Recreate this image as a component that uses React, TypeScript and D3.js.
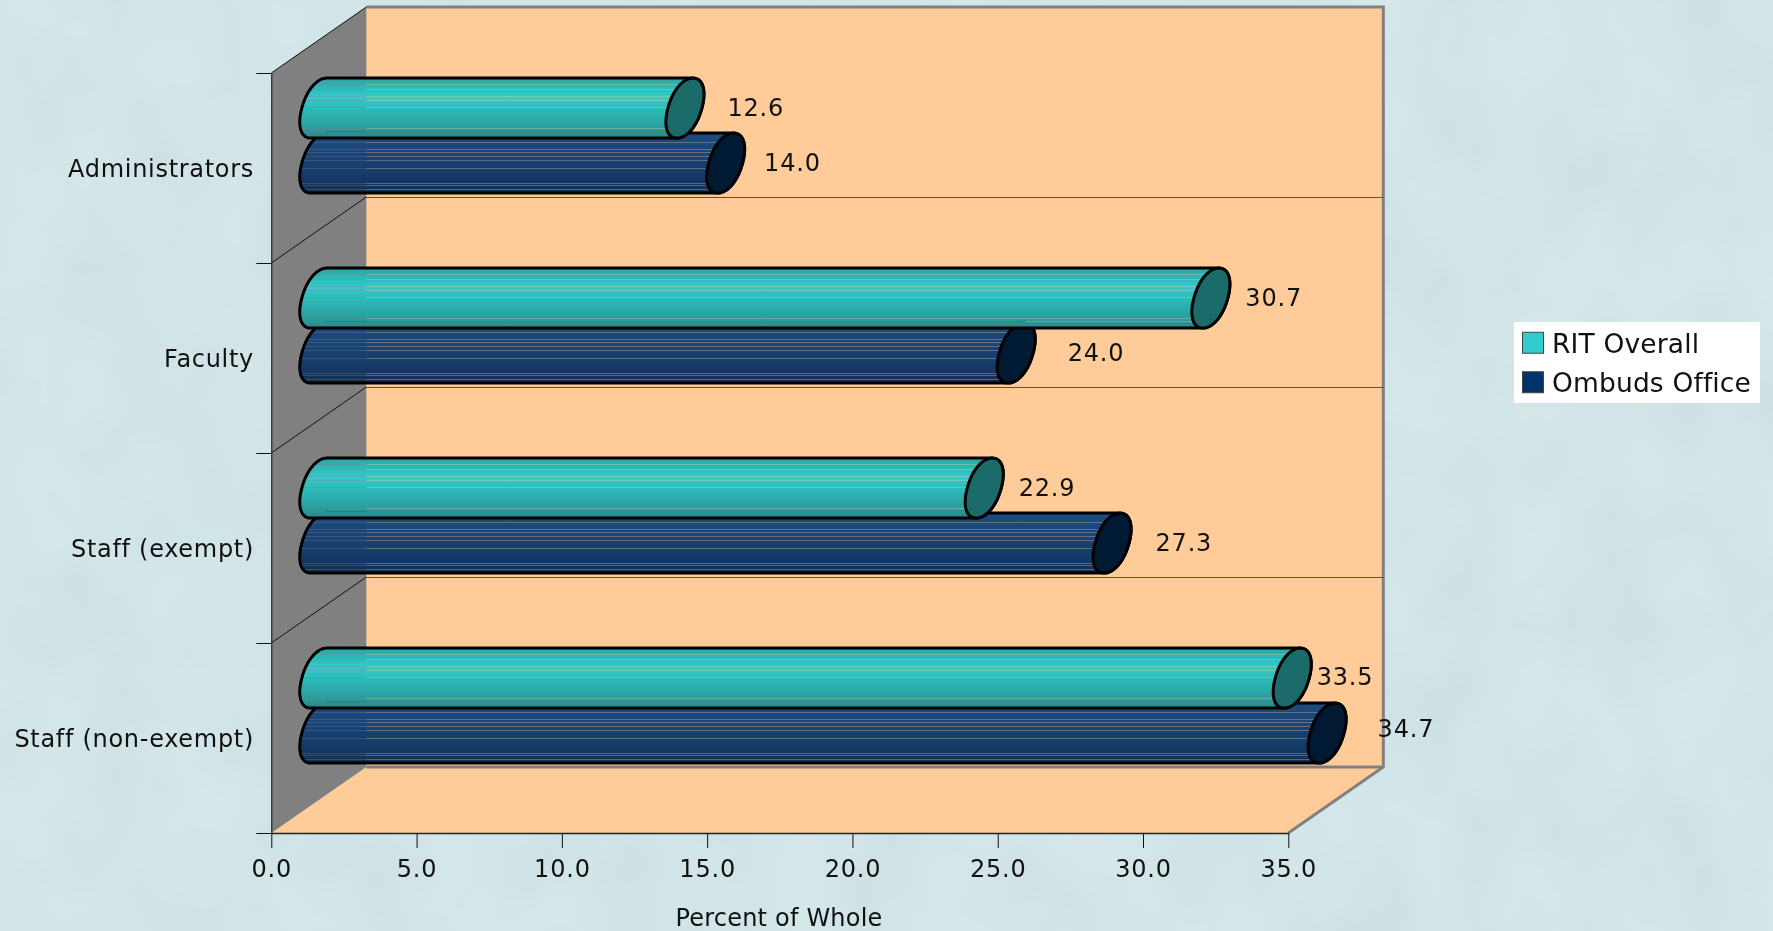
import * as d3 from "d3";
import React, { useEffect, useRef } from "react";

const WIDTH = 1773;
const HEIGHT = 931;

const categories = ["Administrators", "Faculty", "Staff (exempt)", "Staff (non-exempt)"];
const ritOverall = [12.6, 30.7, 22.9, 33.5];
const ombudsOffice = [14.0, 24.0, 27.3, 34.7];
const xTicks = [0, 5, 10, 15, 20, 25, 30, 35];

// value labels sit at uneven distances from the bars in the original
const ritLabelGap = [23, 15, 15, 5];
const ombudsLabelGap = [19, 32, 24, 31];
const ritLabelLift = [0.6, 0.6, 0.6, 1.6];
const ombudsLabelLift = [1, 1, 1, 5];

const FONT = "'DejaVu Sans', Verdana, sans-serif";

// plot box: front face of the axes plus the depth offset of the 3D box
const front = { left: 271.3, right: 1288.3, top: 73, bottom: 833 };
const depth = { x: 95, y: -66 };

// end cap of the cylinder, a slanted and slightly squarish ellipse
const capW = 17;
const capS = 8;
const capH = 30;
const capRound = 0.94;

const series = [
  {
    name: "RIT Overall",
    values: ritOverall,
    gaps: ritLabelGap,
    lifts: ritLabelLift,
    swatch: "#33cccc",
    cap: "#1c6b6b",
    ramp: ["#2ba5a5", "#33cccc", "#2eb5b5", "#2a9c9c", "#2a8585"],
    stripes: [6, 11, 18, 22, 29, 51, 54],
  },
  {
    name: "Ombuds Office",
    values: ombudsOffice,
    gaps: ombudsLabelGap,
    lifts: ombudsLabelLift,
    swatch: "#003366",
    cap: "#001a33",
    ramp: ["#1d4a80", "#1a4578", "#163f6f", "#13355f", "#153050"],
    stripes: [9, 16, 19, 23, 27, 35, 51, 53, 57],
  },
];

const App: React.FC = () => {
  const svgRef = useRef<SVGSVGElement>(null);

  useEffect(() => {
    if (!svgRef.current) return;

    const svg = d3.select(svgRef.current);
    svg.selectAll("*").remove();

    const x = d3.scaleLinear().domain([0, 35]).range([front.left, front.right]);
    const y = d3.scaleBand<string>().domain(categories).range([front.top, front.bottom]);
    const inner = d3
      .scaleBand<string>()
      .domain(series.map((s) => s.name))
      .range([7.6, 117.6]);

    const defs = svg.append("defs");

    // mottled page background, one noise channel so it stays the same hue
    const paper = defs
      .append("filter")
      .attr("id", "paper")
      .attr("x", 0)
      .attr("y", 0)
      .attr("width", "100%")
      .attr("height", "100%")
      .attr("color-interpolation-filters", "sRGB");
    paper
      .append("feTurbulence")
      .attr("type", "fractalNoise")
      .attr("baseFrequency", "0.012 0.009")
      .attr("numOctaves", 3)
      .attr("seed", 7);
    paper
      .append("feColorMatrix")
      .attr("type", "matrix")
      .attr(
        "values",
        "0.045 0 0 0 0.798  0.038 0 0 0 0.876  0.032 0 0 0 0.889  0 0 0 0 1",
      );

    // bar fills: a vertical ramp with thin see-through stripes
    series.forEach((s, i) => {
      const ramp = d3
        .scaleLinear<string>()
        .domain([0, 0.32, 0.55, 0.85, 1])
        .range(s.ramp);
      const grad = defs
        .append("linearGradient")
        .attr("id", `bar-${i}`)
        .attr("x1", 0)
        .attr("y1", 0)
        .attr("x2", 0)
        .attr("y2", 1);
      const addStop = (offset: number, opacity: number) =>
        grad
          .append("stop")
          .attr("offset", offset)
          .attr("stop-color", ramp(offset))
          .attr("stop-opacity", opacity);
      addStop(0, 1);
      s.stripes.forEach((px) => {
        const a = px / 61;
        const b = (px + 1) / 61;
        addStop(a, 1);
        addStop(a, 0.68);
        addStop(b, 0.68);
        addStop(b, 1);
      });
      addStop(1, 1);
    });

    svg
      .append("rect")
      .attr("width", WIDTH)
      .attr("height", HEIGHT)
      .attr("fill", "#d2e5e8")
      .attr("filter", "url(#paper)");

    const backLeft = front.left + depth.x;
    const backRight = front.right + depth.x;
    const backTop = front.top + depth.y;
    const backBottom = front.bottom + depth.y;
    const polygon = (pts: [number, number][]) => d3.line()(pts) + "Z";

    // back wall and floor
    svg
      .append("rect")
      .attr("x", backLeft)
      .attr("y", backTop)
      .attr("width", backRight - backLeft)
      .attr("height", backBottom - backTop)
      .attr("fill", "#ffcc99");
    svg
      .append("path")
      .attr(
        "d",
        polygon([
          [front.left, front.bottom],
          [backLeft, backBottom],
          [backRight, backBottom],
          [front.right, front.bottom],
        ]),
      )
      .attr("fill", "#ffcc99");

    // side wall
    svg
      .append("path")
      .attr(
        "d",
        polygon([
          [front.left, front.top],
          [backLeft, backTop],
          [backLeft, backBottom],
          [front.left, front.bottom],
        ]),
      )
      .attr("fill", "#808080");

    // box edges
    svg
      .append("path")
      .attr(
        "d",
        d3.line()([
          [backLeft, backTop],
          [backRight, backTop],
          [backRight, backBottom],
          [front.right, front.bottom],
        ]) as string,
      )
      .attr("fill", "none")
      .attr("stroke", "#808080")
      .attr("stroke-width", 3);
    svg
      .append("line")
      .attr("x1", backLeft)
      .attr("x2", backRight)
      .attr("y1", backBottom)
      .attr("y2", backBottom)
      .attr("stroke", "#808080")
      .attr("stroke-width", 3);

    // gridlines at the category boundaries
    const boundaries = categories.map((c) => y(c)!).concat(front.bottom).slice(1, -1);
    svg
      .selectAll(".grid-back")
      .data(boundaries)
      .join("line")
      .attr("class", "grid-back")
      .attr("x1", backLeft)
      .attr("x2", backRight)
      .attr("y1", (d) => d + depth.y + 0.5)
      .attr("y2", (d) => d + depth.y + 0.5)
      .attr("stroke", "#5f5044")
      .attr("stroke-width", 1.2);
    svg
      .selectAll(".grid-side")
      .data(categories.map((c) => y(c)!))
      .join("line")
      .attr("class", "grid-side")
      .attr("x1", front.left)
      .attr("x2", backLeft)
      .attr("y1", (d) => d)
      .attr("y2", (d) => d + depth.y)
      .attr("stroke", "#111")
      .attr("stroke-width", 1);

    // axes
    const xAxis = d3
      .axisBottom(x)
      .tickValues(xTicks)
      .tickFormat((d) => d3.format(".1f")(d as number))
      .tickSize(15)
      .tickPadding(12)
      .tickSizeOuter(0);
    const gx = svg.append("g").attr("transform", `translate(0,${front.bottom})`).call(xAxis);
    gx.select(".domain").attr("stroke", "#222").attr("stroke-width", 1.4);
    gx.selectAll(".tick line").attr("stroke", "#111");
    gx.selectAll("text")
      .attr("fill", "#111")
      .style("font-family", FONT)
      .style("font-size", "24px")
      .style("letter-spacing", "0.8px");

    const yTicks = d3.scalePoint<number>().domain(d3.range(5)).range([front.top, front.bottom]);
    const yAxis = d3
      .axisLeft(yTicks)
      .tickSize(15)
      .tickSizeOuter(0)
      .tickFormat(() => "");
    const gy = svg.append("g").attr("transform", `translate(${front.left},0)`).call(yAxis);
    gy.select(".domain").attr("stroke", "#111").attr("stroke-width", 1);
    gy.selectAll(".tick line").attr("stroke", "#111");

    // category labels
    svg
      .selectAll(".cat")
      .data(categories)
      .join("text")
      .attr("class", "cat")
      .attr("x", 254)
      .attr("y", (d) => y(d)! + y.bandwidth() / 2 + 0.5)
      .attr("dy", "0.35em")
      .attr("text-anchor", "end")
      .attr("fill", "#111")
      .style("font-family", FONT)
      .style("font-size", "24px")
      .style("letter-spacing", "0.7px")
      .text((d) => d);

    // cylinders
    const soft = (v: number) => Math.sign(v) * Math.pow(Math.abs(v), capRound);
    const capPoint = (cx: number, cy: number, t: number): [number, number] => [
      cx + capW * soft(Math.cos(t)) + capS * soft(Math.sin(t)),
      cy - capH * soft(Math.sin(t)),
    ];
    const arc = (cx: number, cy: number, from: number, to: number) =>
      d3.range(0, 41).map((k) => capPoint(cx, cy, from + ((to - from) * k) / 40));

    categories.forEach((cat, ci) => {
      // navy first, teal lies on top of it
      [1, 0].forEach((si) => {
        const s = series[si];
        const value = s.values[ci];
        const cy = y(cat)! + inner(s.name)! + inner.bandwidth() / 2;
        const xStart = x(0) + depth.x / 2;
        const xEnd = x(value) + depth.x / 2;
        const pts = [
          ...arc(xStart, cy, Math.PI / 2, (3 * Math.PI) / 2),
          ...arc(xEnd, cy, (3 * Math.PI) / 2, (5 * Math.PI) / 2),
        ];
        svg
          .append("path")
          .attr("d", d3.line()(pts) + "Z")
          .attr("fill", `url(#bar-${si})`)
          .attr("stroke", "#000")
          .attr("stroke-width", 3)
          .attr("stroke-linejoin", "round");
        svg
          .append("path")
          .attr("d", d3.line()(arc(xEnd, cy, 0, 2 * Math.PI)) + "Z")
          .attr("fill", s.cap)
          .attr("stroke", "#000")
          .attr("stroke-width", 3);
      });
    });

    // value labels
    series.forEach((s) => {
      svg
        .selectAll(`.val-${s.swatch.slice(1)}`)
        .data(s.values)
        .join("text")
        .attr("class", `val-${s.swatch.slice(1)}`)
        .attr("x", (d, i) => x(d) + 67 + s.gaps[i])
        .attr("y", (_, i) => y(categories[i])! + inner(s.name)! + inner.bandwidth() / 2 - s.lifts[i])
        .attr("dy", "0.36em")
        .attr("fill", "#111")
        .style("font-family", FONT)
        .style("font-size", "24px")
        .style("letter-spacing", "0.8px")
        .text((d) => d3.format(".1f")(d));
    });

    // axis title
    svg
      .append("text")
      .attr("x", 779)
      .attr("y", 917)
      .attr("dy", "0.36em")
      .attr("text-anchor", "middle")
      .attr("fill", "#111")
      .style("font-family", FONT)
      .style("font-size", "24px")
      .style("letter-spacing", "0.2px")
      .text("Percent of Whole");

    // legend
    const legend = svg.append("g");
    legend
      .append("rect")
      .attr("x", 1514)
      .attr("y", 322)
      .attr("width", 246)
      .attr("height", 81)
      .attr("fill", "#fff");
    const legendRow = d3
      .scaleBand<string>()
      .domain(series.map((s) => s.name))
      .range([323, 402]);
    legend
      .selectAll(".swatch")
      .data(series)
      .join("rect")
      .attr("class", "swatch")
      .attr("x", 1522.5)
      .attr("y", (d) => legendRow(d.name)! + legendRow.bandwidth() / 2 - 10.5)
      .attr("width", 21)
      .attr("height", 21)
      .attr("fill", (d) => d.swatch)
      .attr("stroke", "#444")
      .attr("stroke-width", 1);
    legend
      .selectAll(".legend-text")
      .data(series)
      .join("text")
      .attr("class", "legend-text")
      .attr("x", 1552)
      .attr("y", (d) => legendRow(d.name)! + legendRow.bandwidth() / 2 + 0.5)
      .attr("dy", "0.36em")
      .attr("fill", "#111")
      .style("font-family", FONT)
      .style("font-size", "26.5px")
      .style("letter-spacing", "0.15px")
      .text((d) => d.name);
  }, []);

  return (
    <svg
      ref={svgRef}
      width={WIDTH}
      height={HEIGHT}
      style={{ position: "fixed", left: 0, top: 0, display: "block" }}
    />
  );
};

export default App;
